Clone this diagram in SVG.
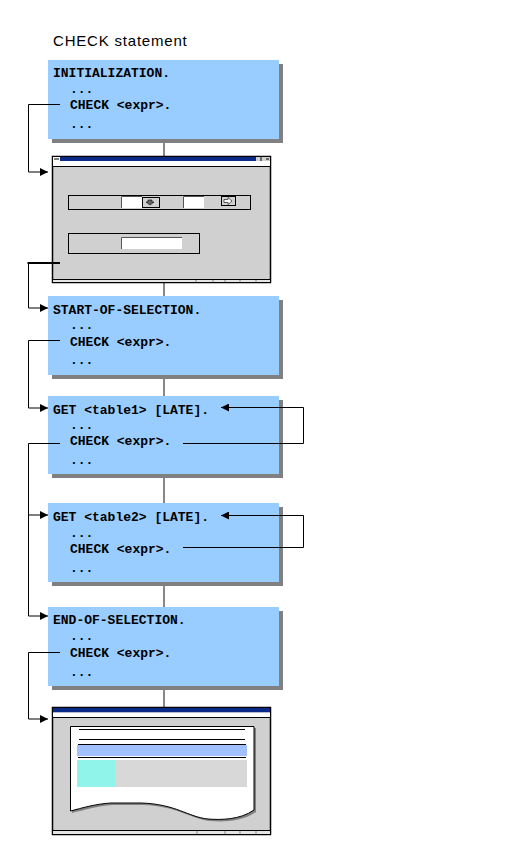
<svg xmlns="http://www.w3.org/2000/svg" width="526" height="862" viewBox="0 0 526 862">
<style>
.title{font-family:"Liberation Sans",Arial,sans-serif;font-size:15px;letter-spacing:0.8px;fill:#000}
.code{font-family:"Liberation Mono","Courier New",monospace;font-size:13px;font-weight:bold;fill:#000}
.box{fill:#99CCFF}
.shadow{fill:#808080}
.conn{fill:none;stroke:#000;stroke-width:1}
.spine{stroke:#888;stroke-width:2}
.win{fill:#D0D0D0;stroke:#000;stroke-width:1.5}
.frame{fill:none;stroke:#000;stroke-width:1}
.input{fill:#fff;stroke:#555;stroke-width:1}
</style>
<defs>
<marker id="arr" markerUnits="userSpaceOnUse" markerWidth="9" markerHeight="8" refX="8" refY="4" orient="auto">
<path d="M0,0 L8,4 L0,8 Z" fill="#000"/>
</marker>
</defs>
<rect width="526" height="862" fill="#fff"/>
<text class="title" x="53" y="46">CHECK statement</text>

<g id="spine">
<line class="spine" x1="164" y1="139" x2="164" y2="707"/>
</g>

<g id="node-init">
<rect class="shadow" x="52" y="64" width="231" height="79"/>
<rect class="box" x="48" y="60" width="231" height="79"/>
<text class="code" x="53" y="77">INITIALIZATION.</text>
<text class="code" x="70" y="93">...</text>
<text class="code" x="70" y="109">CHECK &lt;expr&gt;.</text>
<text class="code" x="70" y="128">...</text>
</g>

<g id="node-window1">
<rect class="win" x="52.5" y="156.5" width="218" height="126"/>
<rect x="53" y="157" width="217" height="4" fill="#0A2A8A"/>
<rect x="53" y="157" width="7" height="4" fill="#fff"/>
<line x1="54" y1="159" x2="59" y2="159" stroke="#000" stroke-width="1"/>
<rect x="256" y="157" width="14" height="4" fill="#D0D0D0"/>
<line x1="261" y1="157" x2="261" y2="161" stroke="#000" stroke-width="1"/>
<line x1="266" y1="159" x2="269" y2="159" stroke="#000" stroke-width="1"/>
<rect x="53" y="161" width="217" height="5" fill="#fff"/>
<line x1="53" y1="166.5" x2="270" y2="166.5" stroke="#000" stroke-width="1"/>
<rect class="frame" x="68.5" y="195.5" width="182" height="14"/>
<rect x="121" y="196" width="21" height="12" fill="#fff"/>
<path d="M121.5,208 V196.5 H142" fill="none" stroke="#555"/>
<rect x="142.5" y="197.5" width="17" height="10" fill="#D0D0D0" stroke="#000"/>
<path d="M148,200 h4 v2 h2 l-4,3 l-4,-3 h2 z" fill="#666" stroke="#000" stroke-width="0.6"/>
<rect x="183" y="196" width="21" height="12" fill="#fff"/>
<path d="M183.5,208 V196.5 H204" fill="none" stroke="#555"/>
<rect x="221.5" y="196.5" width="14" height="9" fill="#D0D0D0" stroke="#000"/>
<path d="M224,199.5 h4 v-2 l4,3.5 l-4,3.5 v-2 h-4 z" fill="#fff" stroke="#000" stroke-width="0.6"/>
<rect class="frame" x="68.5" y="233.5" width="131" height="20"/>
<rect x="121" y="237" width="61" height="12" fill="#fff"/>
<path d="M121.5,249 V237.5 H182" fill="none" stroke="#555"/>
<rect x="53" y="279" width="217" height="3" fill="#E4E4E4"/>
<line x1="53" y1="279.5" x2="270" y2="279.5" stroke="#000" stroke-width="1"/>
<g stroke="#888" stroke-width="1">
<line x1="196" y1="280" x2="196" y2="282"/><line x1="213" y1="280" x2="213" y2="282"/><line x1="225" y1="280" x2="225" y2="282"/><line x1="240" y1="280" x2="240" y2="282"/><line x1="256" y1="280" x2="256" y2="282"/>
</g>
</g>

<g id="node-start">
<rect class="shadow" x="52" y="300" width="231" height="79"/>
<rect class="box" x="48" y="296" width="231" height="79"/>
<text class="code" x="53" y="314">START-OF-SELECTION.</text>
<text class="code" x="70" y="329">...</text>
<text class="code" x="70" y="346">CHECK &lt;expr&gt;.</text>
<text class="code" x="70" y="364">...</text>
</g>

<g id="node-get1">
<rect class="shadow" x="52" y="400" width="231" height="78"/>
<rect class="box" x="48" y="396" width="231" height="78"/>
<text class="code" x="53" y="414">GET &lt;table1&gt; [LATE].</text>
<text class="code" x="70" y="429">...</text>
<text class="code" x="70" y="445">CHECK &lt;expr&gt;.</text>
<text class="code" x="70" y="464">...</text>
</g>

<g id="node-get2">
<rect class="shadow" x="52" y="507" width="231" height="79"/>
<rect class="box" x="48" y="503" width="231" height="79"/>
<text class="code" x="53" y="521">GET &lt;table2&gt; [LATE].</text>
<text class="code" x="70" y="537">...</text>
<text class="code" x="70" y="553">CHECK &lt;expr&gt;.</text>
<text class="code" x="70" y="572">...</text>
</g>

<g id="node-end">
<rect class="shadow" x="52" y="611" width="231" height="79"/>
<rect class="box" x="48" y="607" width="231" height="79"/>
<text class="code" x="53" y="624">END-OF-SELECTION.</text>
<text class="code" x="70" y="640">...</text>
<text class="code" x="70" y="657">CHECK &lt;expr&gt;.</text>
<text class="code" x="70" y="676">...</text>
</g>

<g id="node-window2">
<rect class="win" x="52.5" y="707.5" width="218" height="127"/>
<rect x="53" y="708" width="217" height="4.5" fill="#0A2A8A"/>
<rect x="53" y="712.5" width="217" height="4.5" fill="#fff"/>
<line x1="53" y1="717.5" x2="270" y2="717.5" stroke="#000" stroke-width="1"/>
<path d="M72,728 H256 V812 C242,822 222,822 210,821 C190,819 178,806 143,805 L113,805 C97,806 84,810 72,813 Z" fill="#808080"/>
<path d="M70.5,726.5 H254 V810 C240,820 220,820 208,819 C188,817 176,804 141,803 L111,803 C95,804 82,808 70.5,811 Z" fill="#fff" stroke="#000" stroke-width="1"/>
<line x1="79" y1="729.5" x2="245" y2="729.5" stroke="#000" stroke-width="1"/>
<line x1="79" y1="739.5" x2="245" y2="739.5" stroke="#000" stroke-width="1"/>
<line x1="78" y1="744.5" x2="246" y2="744.5" stroke="#000" stroke-width="1"/>
<rect x="77" y="745" width="170" height="11" fill="#A0C0FF"/>
<line x1="78" y1="757.5" x2="246" y2="757.5" stroke="#000" stroke-width="1"/>
<rect x="77" y="760" width="170" height="27" fill="#D8D8D8"/>
<rect x="77" y="760" width="38" height="27" fill="#90F4EA"/>
<rect x="53" y="830" width="217" height="4" fill="#E4E4E4"/>
<line x1="53" y1="830.5" x2="270" y2="830.5" stroke="#000" stroke-width="1"/>
<g stroke="#888" stroke-width="1">
<line x1="197" y1="831" x2="197" y2="834"/><line x1="225" y1="831" x2="225" y2="834"/><line x1="240" y1="831" x2="240" y2="834"/><line x1="256" y1="831" x2="256" y2="834"/>
</g>
</g>

<g id="connectors">
<polyline class="conn" points="60,104.5 28.5,104.5 28.5,172 48,172" marker-end="url(#arr)"/>
<polyline class="conn" points="28.5,263 28.5,308 48,308" marker-end="url(#arr)"/>
<line x1="27.5" y1="263" x2="60" y2="263" stroke="#000" stroke-width="2"/>
<polyline class="conn" points="60,340.5 28.5,340.5 28.5,408 48,408" stroke-width="1.5" marker-end="url(#arr)"/>
<polyline class="conn" points="60,443.5 28.5,443.5 28.5,616 48,616" marker-end="url(#arr)"/>
<polyline class="conn" points="28.5,515 48,515" marker-end="url(#arr)"/>
<polyline class="conn" points="183,443.5 303.5,443.5 303.5,407.5 221,407.5" marker-end="url(#arr)"/>
<polyline class="conn" points="183,547.5 303.5,547.5 303.5,515.5 221,515.5" marker-end="url(#arr)"/>
<polyline class="conn" points="60,652.5 28.5,652.5 28.5,719 48,719" marker-end="url(#arr)"/>
</g>
</svg>
